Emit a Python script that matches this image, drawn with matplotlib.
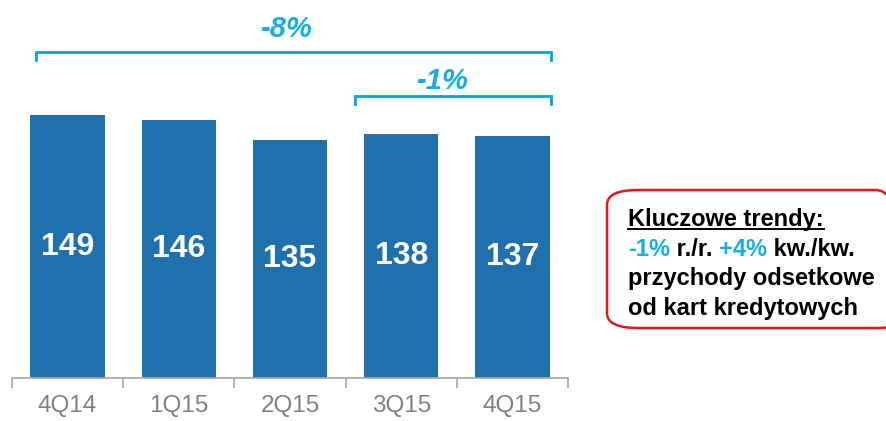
import matplotlib.pyplot as plt
from matplotlib.patches import FancyBboxPatch

plt.rcParams['font.family'] = ['Liberation Sans', 'DejaVu Sans']

# ===== DATA =====
quarters = ["4Q14", "1Q15", "2Q15", "3Q15", "4Q15"]
values = [149, 146, 135, 138, 137]
change_total = "-8%"
change_yoy = "-1%"
box_title = "Kluczowe trendy:"
box_line2 = [("-1%", "blue"), (" r./r. ", "black"), ("+4%", "blue"), (" kw./kw.", "black")]
box_rest = ["przychody odsetkowe", "od kart kredytowych"]

BAR_COL = "#1f70ad"
BRACKET_COL = "#00a6de"
LABEL_COL = "#17aee8"
GRAY = "#808080"

W, H = 887, 421
fig = plt.figure(figsize=(W / 100, H / 100), dpi=100)

# axes placed in pixel units: x from 12 to 568, baseline at y=378
ax = fig.add_axes([12 / W, (H - 378) / H, 556 / W, 378 / H])
ax.bar(range(len(values)), values, width=0.67, color=BAR_COL)
ax.set_xlim(-0.5, len(values) - 0.5)
ax.set_ylim(0, 378 / 1.765)

for i, v in enumerate(values):
    ax.text(i, v / 2, str(v), ha="center", va="center", color="white",
            fontsize=23, fontweight="bold")

# axis look
for s in ["top", "right", "left"]:
    ax.spines[s].set_visible(False)
ax.spines["bottom"].set_color("#a6a6a6")
ax.spines["bottom"].set_linewidth(1.2)
ax.set_yticks([])
ax.set_xticks(range(len(quarters)))
ax.set_xticklabels(quarters, fontsize=17.5, color=GRAY)
ax.tick_params(axis="x", which="major", length=0, pad=12)
ax.set_xticks([i - 0.5 for i in range(len(quarters) + 1)], minor=True)
ax.tick_params(axis="x", which="minor", length=7, width=1.2, color="#a6a6a6")


def bracket(x0, x1, y, drop, label, ly, lx_off):
    ax.plot([x0, x0, x1, x1], [y - drop, y, y, y - drop], color=BRACKET_COL,
            lw=2, clip_on=False, solid_joinstyle="miter")
    ax.text((x0 + x1) / 2 + lx_off, ly, label, ha="center", va="center",
            color=LABEL_COL, fontsize=21, fontweight="bold", style="italic")


bracket(-0.284, 4.347, 184.7, 4.5, change_total, 198.0, -0.07)
bracket(2.585, 4.347, 159.8, 4.5, change_yoy, 168.0, -0.1)

# callout box
box = FancyBboxPatch((607 / W, (H - 328) / H), 300 / W, 138 / H,
                     boxstyle="round,pad=0,rounding_size=0.035",
                     transform=fig.transFigure, fill=False,
                     edgecolor="#e8161b", lw=1.8, clip_on=False)
fig.patches.append(box)

x0_px = 628
fs = 17
fig.canvas.draw()
renderer = fig.canvas.get_renderer()

title = fig.text(x0_px / W, (H - 226) / H, box_title, fontsize=fs, fontweight="bold",
                 va="baseline", ha="left")
tw = title.get_window_extent(renderer).width
fig.add_artist(plt.Line2D([x0_px / W, (x0_px + tw) / W], [(H - 229) / H] * 2,
                          transform=fig.transFigure, color="black", lw=1.4))

# second line: coloured pieces placed one after another
x_px = x0_px
for txt, col in box_line2:
    t = fig.text(x_px / W, (H - 256) / H, txt, fontsize=fs, fontweight="bold",
                 va="baseline", ha="left",
                 color=LABEL_COL if col == "blue" else "black")
    x_px += t.get_window_extent(renderer).width

for k, line in enumerate(box_rest):
    fig.text(x0_px / W, (H - 285 - 30 * k) / H, line, fontsize=fs, fontweight="bold",
             va="baseline", ha="left")

fig.savefig("out.png", dpi=100)
